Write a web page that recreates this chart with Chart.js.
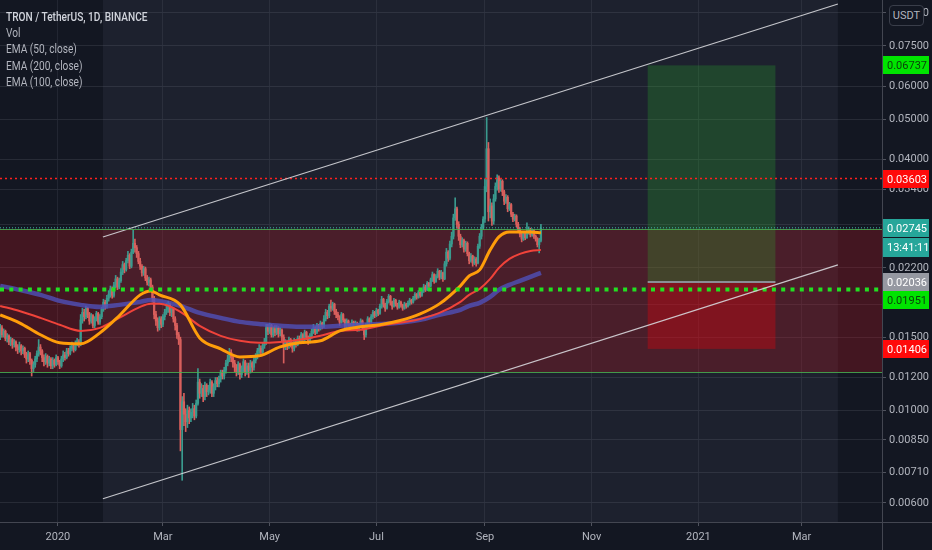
<!DOCTYPE html>
<html><head><meta charset="utf-8">
<script src="https://cdn.jsdelivr.net/npm/chart.js@4.4.0/dist/chart.umd.min.js"></script>
<style>
html,body{margin:0;padding:0;background:#131722;}
#wrap{position:relative;width:932px;height:550px;overflow:hidden;background:#131722;}
canvas{display:block;}
#legend{position:absolute;left:6px;top:8px;font-family:Roboto,sans-serif;font-size:13.5px;color:#b2b5be;line-height:16.2px;white-space:nowrap;transform:scaleX(0.75);transform-origin:0 0;}
#legend .t{color:#d1d4dc;font-weight:500;}
#unit{position:absolute;left:889px;top:5px;width:33px;height:19px;border:1px solid #3a3e4a;border-radius:4px;font-family:Roboto,sans-serif;font-size:11px;color:#b2b5be;text-align:center;line-height:19px;background:#131722;}
</style></head><body>
<div id="wrap"><canvas id="c" width="932" height="550"></canvas>
<div id="legend"><div class="t">TRON / TetherUS, 1D, BINANCE</div><div>Vol</div><div>EMA (50, close)</div><div>EMA (200, close)</div><div>EMA (100, close)</div></div>
<div id="unit">USDT</div></div>
<script>
// ---- data (days counted from 2020-01-01) ----
const firstDay = -33;
const firstOpen = 0.0150;
const closes = [0.0158,0.0152,0.0155,0.0149,0.0151,0.0146,
0.0148,0.0144,0.0146,0.0142,0.0140,0.0143,
0.0139,0.0141,0.0136,0.0133,0.0137,0.0132,
0.0126,0.0129,0.0133,
0.0137,0.0142,0.0139,0.0134,
0.0131,0.0135,0.0130,0.0133,0.0128,0.0132,0.0129,0.0134,0.0131,0.0128,
0.0133,0.0136,0.0134,0.0139,0.0137,0.0141,
0.0143,0.0140,0.0145,0.0147,0.0144,
0.0165,0.0172,0.0168,0.0176,0.0170,0.0164,
0.0169,0.0160,0.0166,0.0171,0.0163,0.0168,
0.0175,0.0182,0.0178,0.0186,0.0190,
0.0196,0.0189,0.0200,0.0207,0.0198,0.0205,
0.0215,0.0224,0.0218,0.0229,
0.0236,0.0222,0.0240,
0.0252,0.0246,
0.0238,0.0228,0.0222,0.0214,0.0219,0.0208,0.0203,0.0206,0.0198,
0.0186,0.0170,0.0164,0.0158,0.0166,0.0161,0.0168,0.0172,
0.0175,0.0180,0.0172,0.0176,
0.0166,0.0160,
0.0152,0.0148,
0.0090,
0.0105,
0.0098,0.0094,0.0100,0.0096,
0.0099,0.0101,0.0097,0.0104,
0.0117,0.0110,
0.0113,0.0108,0.0115,0.0111,
0.0112,0.0117,0.0110,0.0114,0.0118,0.0116,
0.0119,0.0123,0.0121,0.0125,0.0130,0.0133,
0.0138,0.0134,0.0130,
0.0127,0.0124,0.0129,0.0122,0.0126,0.0131,0.0124,
0.0128,0.0125,0.0130,0.0127,0.0132,0.0135,
0.0139,0.0141,0.0138,0.0143,0.0146,
0.0158,0.0155,0.0160,0.0152,0.0157,0.0154,
0.0158,0.0153,0.0156,0.0150,0.0142,
0.0146,0.0143,0.0148,0.0145,0.0141,0.0147,0.0144,0.0149,
0.0147,0.0152,0.0148,0.0154,0.0150,0.0146,0.0151,0.0155,
0.0158,0.0154,0.0160,0.0157,0.0162,0.0159,
0.0166,0.0172,0.0169,0.0178,0.0176,0.0180,0.0173,0.0170,
0.0168,0.0163,0.0170,0.0165,0.0160,0.0164,
0.0161,0.0158,0.0163,0.0159,0.0162,0.0157,0.0160,
0.0164,0.0158,0.0152,0.0160,0.0166,0.0163,
0.0168,0.0172,0.0169,0.0174,0.0171,
0.0178,0.0185,0.0180,0.0176,0.0183,0.0188,
0.0182,0.0178,0.0184,0.0180,0.0177,0.0182,
0.0179,0.0176,0.0180,0.0178,0.0181,0.0184,0.0182,
0.0186,0.0190,0.0187,0.0192,0.0189,0.0194,
0.0198,0.0195,0.0202,0.0199,
0.0206,0.0212,0.0204,0.0210,0.0216,0.0209,
0.0214,0.0207,
0.0225,0.0240,0.0232,0.0251,
0.0262,0.0290,0.0305,0.0280,
0.0262,0.0250,0.0256,0.0244,0.0252,
0.0238,0.0229,0.0235,0.0226,
0.0231,0.0226,
0.0248,0.0262,0.0275,0.0288,
0.0345,0.0425,0.0300,
0.0310,0.0285,0.0322,
0.0345,0.0362,0.0340,0.0355,0.0335,
0.0318,0.0325,0.0305,0.0312,
0.0296,0.0288,0.0293,0.0280,
0.0272,0.0265,0.0258,0.0266,0.0260,0.0268,
0.0272,0.0264,0.0270,0.0262,
0.0258,0.0250,0.0256,0.02745];
const highs = [0.0161,0.0160,0.0157,0.0156,0.0153,0.0152,
0.0150,0.0149,0.0148,0.0147,0.0144,0.0146,
0.0144,0.0143,0.0142,0.0138,0.0139,0.0138,
0.0133,0.0131,0.0135,
0.0139,0.0148,0.0144,0.0140,
0.0136,0.0137,0.0136,0.0135,0.0134,0.0134,0.0133,0.0136,0.0135,0.0132,
0.0135,0.0139,0.0138,0.0141,0.0141,0.0143,
0.0146,0.0145,0.0147,0.0149,0.0148,
0.0170,0.0176,0.0175,0.0178,0.0177,0.0172,
0.0171,0.0170,0.0168,0.0173,0.0172,0.0170,
0.0177,0.0185,0.0184,0.0189,0.0194,
0.0199,0.0198,0.0203,0.0211,0.0209,0.0208,
0.0219,0.0228,0.0226,0.0232,
0.0241,0.0238,0.0244,
0.0271,0.0258,
0.0249,0.0241,0.0232,0.0224,0.0222,0.0221,0.0211,0.0209,0.0208,
0.0200,0.0188,0.0173,0.0167,0.0168,0.0168,0.0170,0.0175,
0.0181,0.0183,0.0181,0.0178,
0.0177,0.0168,
0.0162,0.0154,
0.0150,
0.0108,
0.0110,0.0101,0.0103,0.0102,
0.0101,0.0104,0.0103,0.0106,
0.0126,0.0119,
0.0116,0.0115,0.0117,0.0116,
0.0115,0.0119,0.0118,0.0116,0.0120,0.0120,
0.0121,0.0125,0.0125,0.0127,0.0132,0.0136,
0.0141,0.0140,0.0136,
0.0132,0.0129,0.0131,0.0130,0.0128,0.0133,0.0132,
0.0130,0.0130,0.0132,0.0131,0.0134,0.0137,
0.0141,0.0144,0.0143,0.0145,0.0149,
0.0161,0.0161,0.0162,0.0161,0.0159,0.0160,
0.0160,0.0159,0.0158,0.0157,0.0152,
0.0148,0.0147,0.0150,0.0149,0.0146,0.0149,0.0148,0.0151,
0.0151,0.0154,0.0153,0.0156,0.0155,0.0151,0.0153,0.0157,
0.0161,0.0159,0.0162,0.0161,0.0164,0.0163,
0.0169,0.0175,0.0174,0.0180,0.0184,0.0182,0.0181,0.0175,
0.0172,0.0169,0.0172,0.0171,0.0166,0.0166,
0.0165,0.0162,0.0165,0.0164,0.0164,0.0163,0.0162,
0.0166,0.0165,0.0159,0.0162,0.0168,0.0167,
0.0170,0.0174,0.0173,0.0176,0.0175,
0.0180,0.0188,0.0186,0.0181,0.0185,0.0190,
0.0189,0.0183,0.0186,0.0185,0.0181,0.0184,
0.0183,0.0180,0.0182,0.0181,0.0183,0.0186,0.0185,
0.0188,0.0192,0.0191,0.0194,0.0193,0.0196,
0.0201,0.0200,0.0204,0.0203,
0.0208,0.0215,0.0213,0.0212,0.0219,0.0217,
0.0217,0.0215,
0.0228,0.0245,0.0242,0.0255,
0.0268,0.0296,0.0324,0.0308,
0.0284,0.0265,0.0260,0.0258,0.0255,
0.0254,0.0240,0.0238,0.0236,
0.0234,0.0233,
0.0251,0.0266,0.0280,0.0292,
0.0360,0.0505,0.0440,
0.0322,0.0315,0.0330,
0.0352,0.0368,0.0366,0.0360,0.0358,
0.0338,0.0330,0.0328,0.0316,
0.0314,0.0299,0.0296,0.0295,
0.0283,0.0275,0.0268,0.0269,0.0268,0.0282,
0.0276,0.0274,0.0273,0.0272,
0.0264,0.0260,0.0259,0.0280];
const lows = [0.0148,0.0150,0.0150,0.0147,0.0146,0.0144,
0.0143,0.0141,0.0142,0.0139,0.0137,0.0138,
0.0136,0.0137,0.0134,0.0130,0.0131,0.0129,
0.0121,0.0124,0.0127,
0.0131,0.0135,0.0136,0.0131,
0.0128,0.0129,0.0127,0.0128,0.0126,0.0126,0.0127,0.0128,0.0129,0.0126,
0.0127,0.0131,0.0132,0.0133,0.0135,0.0136,
0.0139,0.0138,0.0139,0.0143,0.0142,
0.0143,0.0162,0.0164,0.0166,0.0167,0.0161,
0.0162,0.0158,0.0158,0.0164,0.0161,0.0161,
0.0166,0.0173,0.0175,0.0176,0.0183,
0.0187,0.0186,0.0187,0.0197,0.0195,0.0196,
0.0203,0.0212,0.0214,0.0216,
0.0226,0.0219,0.0220,
0.0238,0.0240,
0.0233,0.0225,0.0218,0.0210,0.0211,0.0205,0.0200,0.0199,0.0195,
0.0182,0.0166,0.0160,0.0155,0.0156,0.0158,0.0159,0.0165,
0.0170,0.0172,0.0169,0.0168,
0.0163,0.0156,
0.0149,0.0144,
0.0080,
0.0068,
0.0092,0.0089,0.0091,0.0093,
0.0094,0.0096,0.0095,0.0096,
0.0103,0.0107,
0.0108,0.0105,0.0106,0.0108,
0.0109,0.0110,0.0108,0.0108,0.0112,0.0114,
0.0114,0.0117,0.0119,0.0119,0.0123,0.0128,
0.0131,0.0131,0.0127,
0.0124,0.0121,0.0122,0.0119,0.0120,0.0124,0.0121,
0.0122,0.0120,0.0123,0.0124,0.0125,0.0130,
0.0133,0.0137,0.0136,0.0136,0.0141,
0.0144,0.0152,0.0153,0.0150,0.0150,0.0151,
0.0152,0.0150,0.0151,0.0147,0.0130,
0.0140,0.0140,0.0141,0.0142,0.0138,0.0139,0.0142,0.0143,
0.0145,0.0146,0.0146,0.0147,0.0148,0.0144,0.0145,0.0149,
0.0153,0.0152,0.0153,0.0155,0.0156,0.0157,
0.0158,0.0164,0.0166,0.0167,0.0173,0.0174,0.0170,0.0167,
0.0165,0.0160,0.0162,0.0163,0.0158,0.0158,
0.0159,0.0156,0.0157,0.0157,0.0157,0.0155,0.0155,
0.0158,0.0156,0.0148,0.0150,0.0158,0.0161,
0.0162,0.0166,0.0167,0.0168,0.0169,
0.0170,0.0176,0.0177,0.0173,0.0175,0.0181,
0.0179,0.0175,0.0177,0.0178,0.0175,0.0176,
0.0177,0.0174,0.0175,0.0176,0.0177,0.0179,0.0180,
0.0181,0.0184,0.0185,0.0186,0.0187,0.0188,
0.0192,0.0193,0.0194,0.0197,
0.0198,0.0204,0.0202,0.0203,0.0208,0.0206,
0.0207,0.0204,
0.0206,0.0222,0.0228,0.0230,
0.0247,0.0258,0.0286,0.0274,
0.0256,0.0246,0.0247,0.0240,0.0241,
0.0235,0.0225,0.0227,0.0222,
0.0224,0.0222,
0.0225,0.0245,0.0258,0.0272,
0.0283,0.0335,0.0285,
0.0290,0.0278,0.0280,
0.0318,0.0338,0.0334,0.0336,0.0328,
0.0312,0.0314,0.0300,0.0302,
0.0292,0.0284,0.0285,0.0276,
0.0268,0.0261,0.0254,0.0256,0.0257,0.0259,
0.0265,0.0261,0.0262,0.0259,
0.0255,0.0247,0.0239,0.0254];

const emaDays = [-33,-22,-10,1,13,24,35,47,53,58,70,81,93,104,115,127,138,150,161,173,184,195,207,218,230,235,241,247,252,258,264,270,276];
const ema50 = [0.01697,0.01624,0.01520,0.01454,0.01446,0.01536,0.01688,0.01895,0.01937,0.01895,0.01793,0.01494,0.01406,0.01345,0.01353,0.01422,0.01454,0.01470,0.01553,0.01588,0.01606,0.01642,0.01706,0.01803,0.01992,0.02105,0.02176,0.02430,0.02611,0.02684,0.02684,0.02684,0.02670];
const ema100 = [0.01783,0.01734,0.01669,0.01606,0.01553,0.01579,0.01669,0.01773,0.01803,0.01803,0.01725,0.01597,0.01511,0.01470,0.01454,0.01461,0.01478,0.01511,0.01553,0.01562,0.01597,0.01624,0.01659,0.01715,0.01823,0.01895,0.01959,0.02070,0.02200,0.02312,0.02377,0.02416,0.02430];
const ema200 = [0.01992,0.01948,0.01895,0.01833,0.01793,0.01773,0.01793,0.01823,0.01843,0.01833,0.01783,0.01715,0.01669,0.01632,0.01614,0.01597,0.01588,0.01588,0.01597,0.01606,0.01614,0.01624,0.01650,0.01697,0.01744,0.01783,0.01813,0.01874,0.01948,0.02003,0.02048,0.02093,0.02140];

const monthDays = [0,60,121,182,244,305,366,425];
const monthLabels = ['2020','Mar','May','Jul','Sep','Nov','2021','Mar'];
const priceTicks = [0.09,0.075,0.06,0.05,0.04,0.034,0.028,0.022,0.018,0.015,0.012,0.01,0.0085,0.0071,0.006];

const dayRange = [-33.1, 470.9];
const priceRange = [0.00540, 0.0967];

const resistanceLevel = 0.03603;
const lastPrice = 0.02745;
const supportLevel = 0.01951;
const zoneRange = [0.01237, 0.0272];
const channelDays = [25.7, 445.7];
const channelUpper = [0.0261, 0.0946];
const channelLower = [0.00614, 0.02236];
const positionDays = [337, 410];
const positionTarget = 0.06737, positionEntry = 0.02036, positionStop = 0.01406;
const countdown = '13:41:11';

// ---- build candles ----
const UP = '#3a9a8e', DOWN = '#d85f5c';
const wickData = [], bodyData = [], candleColors = [];
closes.forEach((c, i) => {
  const o = i === 0 ? firstOpen : closes[i - 1];
  const d = firstDay + i;
  wickData.push({x: d, y: [lows[i], highs[i]]});
  bodyData.push({x: d, y: [Math.min(o, c), Math.max(o, c)]});
  candleColors.push(c >= o ? UP : DOWN);
});
const pts = (xs, ys) => xs.map((x, i) => ({x, y: ys[i]}));
const hline = v => [{x: dayRange[0], y: v}, {x: dayRange[1], y: v}];

const FONT = 'Roboto, sans-serif';

const drawings = {
  id: 'drawings',
  beforeDatasetsDraw(chart) {
    const {ctx, chartArea: a, scales: {x, y}} = chart;
    ctx.save();
    ctx.beginPath(); ctx.rect(a.left, a.top, a.right - a.left, a.bottom - a.top); ctx.clip();
    const cx0 = x.getPixelForValue(channelDays[0]), cx1 = x.getPixelForValue(channelDays[1]);
    ctx.fillStyle = 'rgba(120,130,160,0.10)';
    ctx.fillRect(cx0, a.top, cx1 - cx0, a.bottom - a.top);
    const zt = y.getPixelForValue(zoneRange[1]), zb = y.getPixelForValue(zoneRange[0]);
    ctx.fillStyle = 'rgba(200,22,32,0.27)';
    ctx.fillRect(a.left, zt, a.right - a.left, zb - zt);
    const px0 = x.getPixelForValue(positionDays[0]), px1 = x.getPixelForValue(positionDays[1]);
    const pt = y.getPixelForValue(positionTarget), pe = y.getPixelForValue(positionEntry), ps = y.getPixelForValue(positionStop);
    ctx.fillStyle = 'rgba(40,190,40,0.24)';
    ctx.fillRect(px0, pt, px1 - px0, pe - pt);
    ctx.fillStyle = 'rgba(255,0,10,0.30)';
    ctx.fillRect(px0, pe, px1 - px0, ps - pe);
    ctx.restore();
  },
  afterDatasetsDraw(chart) {
    const {ctx, chartArea: a, scales: {x, y}} = chart;
    ctx.save();
    const zt = Math.round(y.getPixelForValue(zoneRange[1])) + 0.5, zb = Math.round(y.getPixelForValue(zoneRange[0])) + 0.5;
    ctx.strokeStyle = 'rgba(76,175,80,0.85)'; ctx.lineWidth = 1;
    ctx.beginPath(); ctx.moveTo(a.left, zt); ctx.lineTo(a.right, zt); ctx.moveTo(a.left, zb); ctx.lineTo(a.right, zb); ctx.stroke();
    const px0 = x.getPixelForValue(positionDays[0]), px1 = x.getPixelForValue(positionDays[1]);
    const pe = y.getPixelForValue(positionEntry);
    ctx.strokeStyle = '#8a8d96'; ctx.lineWidth = 2;
    ctx.beginPath(); ctx.moveTo(px0, pe); ctx.lineTo(px1, pe); ctx.stroke();
    ctx.restore();
  },
  afterDraw(chart) {
    const {ctx, chartArea: a, scales: {y}} = chart;
    ctx.save();
    ctx.strokeStyle = '#434651'; ctx.lineWidth = 1;
    ctx.beginPath();
    ctx.moveTo(a.right + 0.5, 0); ctx.lineTo(a.right + 0.5, chart.height);
    ctx.moveTo(0, a.bottom + 0.5); ctx.lineTo(chart.width, a.bottom + 0.5);
    ctx.stroke();
    const labels = [
      {v: positionTarget, bg: '#00e400', fg: '#0b3d0b'},
      {v: resistanceLevel, bg: '#ff0a0a', fg: '#ffffff'},
      {v: lastPrice, bg: '#26a69a', fg: '#ffffff', extra: countdown},
      {v: positionEntry, bg: '#9598a1', fg: '#ffffff'},
      {v: supportLevel, bg: '#00e400', fg: '#0b3d0b'},
      {v: positionStop, bg: '#ff0a0a', fg: '#ffffff'}
    ].map(l => ({...l, cy: y.getPixelForValue(l.v)})).sort((m, n) => m.cy - n.cy);
    let prev = -Infinity;
    ctx.font = '11px ' + FONT; ctx.textBaseline = 'middle'; ctx.textAlign = 'left';
    const bx = a.right + 1, bw = 46, bh = 18;
    for (const l of labels) {
      let top = Math.round(l.cy - bh / 2);
      if (top < prev) top = prev;
      ctx.fillStyle = l.bg; ctx.fillRect(bx, top, bw, bh);
      ctx.fillStyle = l.fg; ctx.fillText(l.v.toFixed(5), bx + 4, top + bh / 2 + 1);
      prev = top + bh;
      if (l.extra) {
        ctx.fillStyle = l.bg; ctx.fillRect(bx, prev + 1, bw, bh + 1);
        ctx.fillStyle = l.fg; ctx.fillText(l.extra, bx + 4, prev + 1 + bh / 2 + 1);
        prev += bh + 2;
      }
    }
    ctx.restore();
  }
};

new Chart(document.getElementById('c'), {
  type: 'bar',
  data: {
    datasets: [
      {type: 'line', data: pts(emaDays, ema50), borderColor: '#ff9d0a', borderWidth: 3, pointRadius: 0, cubicInterpolationMode: 'monotone', order: 1},
      {type: 'line', data: pts(emaDays, ema100), borderColor: '#f0433a', borderWidth: 2, pointRadius: 0, cubicInterpolationMode: 'monotone', order: 2},
      {type: 'line', data: pts(emaDays, ema200), borderColor: 'rgba(80,80,185,0.8)', borderWidth: 4.5, pointRadius: 0, cubicInterpolationMode: 'monotone', order: 3},
      {type: 'line', data: pts(channelDays, channelUpper), borderColor: 'rgba(215,215,220,0.9)', borderWidth: 1.2, pointRadius: 0, order: 0},
      {type: 'line', data: pts(channelDays, channelLower), borderColor: 'rgba(215,215,220,0.9)', borderWidth: 1.2, pointRadius: 0, order: 0},
      {type: 'line', data: hline(resistanceLevel), borderColor: '#ff2020', borderWidth: 1.5, borderDash: [2, 3], pointRadius: 0, order: 0},
      {type: 'line', data: hline(lastPrice), borderColor: '#3fb3a6', borderWidth: 1, borderDash: [1, 2], pointRadius: 0, order: 0},
      {type: 'line', data: hline(supportLevel), borderColor: '#22e022', borderWidth: 4, borderDash: [4, 5.3], pointRadius: 0, order: 0},
      {type: 'bar', data: bodyData, backgroundColor: candleColors, barThickness: 1.6, grouped: false, order: 8},
      {type: 'bar', data: wickData, backgroundColor: candleColors, barThickness: 1, grouped: false, order: 9}
    ]
  },
  options: {
    responsive: false,
    animation: false,
    devicePixelRatio: 1,
    layout: {padding: 0},
    plugins: {legend: {display: false}, tooltip: {enabled: false}},
    scales: {
      x: {
        type: 'linear', min: dayRange[0], max: dayRange[1], offset: false,
        afterBuildTicks: s => { s.ticks = monthDays.map(v => ({value: v})); },
        afterFit: s => { s.height = 28; s.paddingLeft = 0; s.paddingRight = 0; },
        ticks: {callback: v => monthLabels[monthDays.indexOf(v)], color: '#b2b5be', font: {family: FONT, size: 11}, maxRotation: 0, autoSkip: false, padding: 5},
        grid: {color: 'rgba(42,46,57,0.7)', tickLength: 4, tickColor: '#50535e', offset: false},
        border: {color: '#434651'}
      },
      y: {
        type: 'logarithmic', position: 'right', min: priceRange[0], max: priceRange[1],
        afterBuildTicks: s => { s.ticks = priceTicks.map(v => ({value: v})); },
        afterFit: s => { s.width = 50; s.paddingTop = 0; s.paddingBottom = 0; },
        ticks: {callback: v => Number(v).toFixed(5), color: '#b2b5be', font: {family: FONT, size: 11}, padding: 3, autoSkip: false},
        grid: {color: 'rgba(42,46,57,0.9)', tickLength: 4, tickColor: '#50535e'},
        border: {color: '#434651'}
      }
    }
  },
  plugins: [drawings]
});
</script>
</body></html>
